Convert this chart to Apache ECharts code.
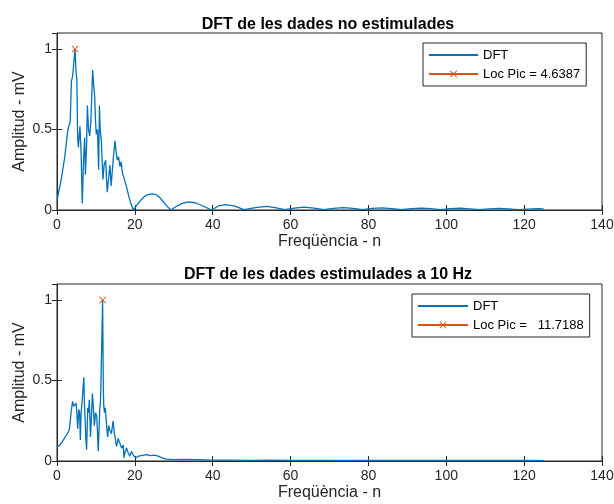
<!DOCTYPE html>
<html>
<head>
<meta charset="utf-8">
<script src="https://cdn.jsdelivr.net/npm/echarts@6/dist/echarts.min.js"></script>
<style>html,body{margin:0;padding:0;background:#fff}#c{width:614px;height:504px}</style>
</head>
<body>
<div id="c"></div>
<script>
// ---- Data ----
const titleTop = 'DFT de les dades no estimulades';
const titleBot = 'DFT de les dades estimulades a 10 Hz';
const xName = 'Freqüència - n';
const yName = 'Amplitud - mV';
const xTicks = [0, 20, 40, 60, 80, 100, 120, 140];
const yTicks = [0, 0.5, 1];

const topFreq = [0,1,2,2.7,3.0,3.4,3.7,4.0,4.2,4.64,4.9,5.1,5.3,5.5,5.9,6.2,6.5,6.8,7.1,7.3,7.6,7.8,8.1,8.4,8.7,9.15,9.4,9.7,9.9,10.1,10.4,10.7,10.9,11.1,11.4,11.6,11.8,12.1,12.5,12.7,12.9,13.2,13.6,13.9,14.2,14.5,14.9,15.2,15.5,15.8,16.2,16.5,16.8,17.2,17.8,18.5,19.0,19.6,20.5,21.5,22.5,23.5,24.4,25.5,26.5,27.5,28.5,29.3,30.5,32,33.7,35.5,37.5,39.7,41.5,43.2,45.5,48,51,53.8,56,58.5,61,63.5,66,68.5,71,73.5,76,78.5,81,83.5,86,88.5,91,93.5,96,98.5,101,103.5,106,108.5,111,113.5,116,118.5,121,123.5,125];
const topAmp = [0.06,0.18,0.33,0.48,0.52,0.55,0.80,0.83,0.82,1.0,0.85,0.82,0.45,0.39,0.52,0.35,0.04,0.30,0.45,0.22,0.40,0.65,0.50,0.46,0.55,0.87,0.78,0.70,0.55,0.47,0.50,0.25,0.65,0.50,0.43,0.30,0.19,0.28,0.31,0.20,0.11,0.18,0.28,0.15,0.24,0.33,0.43,0.36,0.31,0.33,0.27,0.30,0.23,0.20,0.15,0.08,0.04,0.0,0.03,0.06,0.085,0.097,0.10,0.095,0.075,0.045,0.018,0.0,0.02,0.04,0.05,0.045,0.025,0.0,0.025,0.033,0.025,0.003,0.015,0.022,0.015,0.002,0.012,0.018,0.012,0.002,0.01,0.015,0.01,0.002,0.01,0.013,0.008,0.002,0.008,0.012,0.008,0.002,0.008,0.011,0.007,0.002,0.007,0.01,0.007,0.002,0.006,0.009,0.007];

const botFreq = [0,0.8,1.6,2.4,2.9,3.2,3.6,4.0,4.3,4.6,4.9,5.1,5.3,5.6,5.8,6.0,6.2,6.5,6.9,7.05,7.2,7.4,7.6,7.9,8.1,8.3,8.6,8.8,9.1,9.3,9.6,9.9,10.2,10.4,10.6,10.8,11.0,11.2,11.72,11.9,12.0,12.2,12.4,12.6,12.8,13.0,13.3,13.6,14.0,14.4,14.7,14.9,15.3,15.7,16.2,16.6,17.0,17.2,17.5,17.9,18.3,18.7,19.1,19.5,20.2,21,22,23,24,25,26,27,28,30,33,36,40,45,50,55,60,70,80,90,100,110,120,125];
const botAmp = [0.087,0.10,0.13,0.16,0.18,0.20,0.30,0.37,0.34,0.33,0.36,0.30,0.20,0.32,0.30,0.13,0.30,0.39,0.52,0.35,0.28,0.15,0.07,0.33,0.30,0.38,0.15,0.25,0.42,0.35,0.22,0.30,0.28,0.18,0.06,0.20,0.33,0.38,1.0,0.45,0.35,0.30,0.33,0.27,0.20,0.15,0.22,0.19,0.17,0.25,0.18,0.15,0.09,0.14,0.13,0.08,0.10,0.02,0.06,0.08,0.05,0.03,0.06,0.04,0.02,0.03,0.035,0.04,0.033,0.036,0.03,0.02,0.012,0.008,0.01,0.008,0.005,0.006,0.004,0.005,0.004,0.004,0.003,0.004,0.003,0.003,0.003,0.002];

const peakTopX = 4.6387, peakTopY = 1;
const peakBotX = 11.7188, peakBotY = 1;
const peakTopName = 'Loc Pic = 4.6387';
const peakBotName = 'Loc Pic =   11.7188';
const dftName = 'DFT';

// ---- Chart ----
const FONT = "'Liberation Sans', Arial, sans-serif";
const TXT = '#262626';
const BLUE = '#0072BD';
const ORANGE = '#D95319';
const XMARK = 'path://M0,1L1,0L5,4L9,0L10,1L6,5L10,9L9,10L5,6L1,10L0,9L4,5Z';

const zip = (a, b) => a.map((v, i) => [v, b[i]]);

function xAxisMain(g) {
  return {
    type: 'value', gridIndex: g, min: 0, max: 140, interval: 20,
    name: xName, nameLocation: 'middle', nameGap: 24,
    nameTextStyle: {color: TXT, fontSize: 16, fontFamily: FONT},
    axisLine: {show: true, lineStyle: {color: TXT, width: 1}},
    axisTick: {show: true, inside: true, length: 5, lineStyle: {color: TXT}},
    axisLabel: {color: TXT, fontSize: 14, fontFamily: FONT, margin: 8},
    splitLine: {show: false}
  };
}
function xAxisTop(g) {
  return {
    type: 'value', gridIndex: g, min: 0, max: 140, interval: 20, position: 'top',
    axisLine: {show: false}, axisLabel: {show: false},
    axisTick: {show: true, inside: true, length: 5, lineStyle: {color: TXT}},
    splitLine: {show: false}
  };
}
function yAxisMain(g) {
  return {
    type: 'value', gridIndex: g, min: 0, max: 1.1, interval: 0.5,
    name: yName, nameLocation: 'middle', nameGap: 29, nameMoveOverlap: false,
    nameTextStyle: {color: TXT, fontSize: 16, fontFamily: FONT},
    axisLine: {show: true, lineStyle: {color: TXT, width: 1}},
    axisTick: {show: true, inside: true, length: 5, lineStyle: {color: TXT}},
    axisLabel: {color: TXT, fontSize: 14, fontFamily: FONT, margin: 5, showMaxLabel: false,
      formatter: v => yTicks.includes(v) ? String(v) : ''},
    splitLine: {show: false}
  };
}
function yAxisRight(g) {
  return {
    type: 'value', gridIndex: g, min: 0, max: 1.1, interval: 0.5, position: 'right',
    axisLine: {show: false}, axisLabel: {show: false},
    axisTick: {show: true, inside: true, length: 5, lineStyle: {color: TXT}},
    splitLine: {show: false}
  };
}

const legendCommon = {
  orient: 'vertical', padding: [5, 6, 5, 5], itemGap: 5, itemHeight: 9,
  borderColor: TXT, borderWidth: 1, backgroundColor: '#fff',
  textStyle: {color: '#000', fontSize: 13, fontFamily: FONT, lineHeight: 14}
};

const chart = echarts.init(document.getElementById('c'), null, {renderer: 'canvas'});
chart.setOption({
  backgroundColor: '#fff',
  animation: false,
  title: [
    {text: titleTop, left: 323, textAlign: 'center', top: 12,
      textStyle: {fontSize: 16, fontWeight: 'bold', color: '#000', fontFamily: FONT}},
    {text: titleBot, left: 323, textAlign: 'center', top: 262,
      textStyle: {fontSize: 16, fontWeight: 'bold', color: '#000', fontFamily: FONT}}
  ],
  grid: [
    {left: 57, right: 12, top: 33, height: 177, show: true, borderColor: TXT, borderWidth: 1,
      outerBoundsMode: 'none', containLabel: false},
    {left: 57, right: 12, top: 284, height: 177, show: true, borderColor: TXT, borderWidth: 1,
      outerBoundsMode: 'none', containLabel: false}
  ],
  xAxis: [xAxisMain(0), xAxisTop(0), xAxisMain(1), xAxisTop(1)],
  yAxis: [yAxisMain(0), yAxisRight(0), yAxisMain(1), yAxisRight(1)],
  legend: [
    Object.assign({}, legendCommon, {
      data: [{name: dftName, itemStyle: {opacity: 0}}, peakTopName],
      left: 423, top: 43, itemWidth: 49}),
    Object.assign({}, legendCommon, {
      data: [{name: dftName, itemStyle: {opacity: 0}}, peakBotName],
      left: 412, top: 294, itemWidth: 50})
  ],
  series: [
    {name: dftName, type: 'line', xAxisIndex: 0, yAxisIndex: 0, data: zip(topFreq, topAmp),
      symbol: 'none', lineStyle: {color: BLUE, width: 1.3}, itemStyle: {color: BLUE}},
    {name: peakTopName, type: 'line', xAxisIndex: 0, yAxisIndex: 0, data: [[peakTopX, peakTopY]],
      symbol: XMARK, symbolSize: 7, showSymbol: true,
      lineStyle: {color: ORANGE, width: 1}, itemStyle: {color: ORANGE}},
    {name: dftName, type: 'line', xAxisIndex: 2, yAxisIndex: 2, data: zip(botFreq, botAmp),
      symbol: 'none', lineStyle: {color: BLUE, width: 1.3}, itemStyle: {color: BLUE}},
    {name: peakBotName, type: 'line', xAxisIndex: 2, yAxisIndex: 2, data: [[peakBotX, peakBotY]],
      symbol: XMARK, symbolSize: 7, showSymbol: true,
      lineStyle: {color: ORANGE, width: 1}, itemStyle: {color: ORANGE}}
  ]
});
</script>
</body>
</html>
